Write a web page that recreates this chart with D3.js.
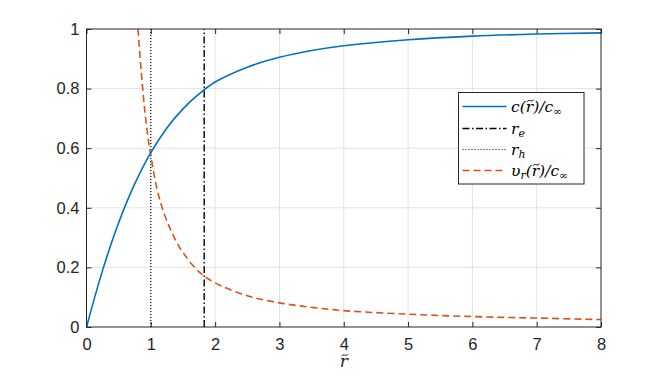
<!DOCTYPE html>
<html>
<head>
<meta charset="utf-8">
<script src="https://cdn.jsdelivr.net/npm/d3@7"></script>
<style>
  body { margin: 0; background: #fff; }
  svg { display: block; }
</style>
</head>
<body>
<div id="chart"></div>
<script>
// values
const concR   = [0, 0.25, 0.5, 0.75, 1, 1.25, 1.5, 1.75, 2, 2.5, 3, 3.5, 4, 5, 6, 7, 8];
const concVal = [0, 0.19, 0.35, 0.48, 0.585, 0.668, 0.732, 0.782, 0.822, 0.872, 0.905, 0.928, 0.944, 0.964, 0.976, 0.983, 0.987];

const velR   = [0.8, 0.85, 0.9, 0.95, 1, 1.1, 1.2, 1.3, 1.4, 1.5, 1.75, 2, 2.5, 3, 3.5, 4, 5, 6, 7, 8];
const velVal = [1.0, 0.86, 0.74, 0.645, 0.575, 0.46, 0.385, 0.33, 0.285, 0.25, 0.185, 0.148, 0.105, 0.081, 0.066, 0.055, 0.043, 0.035, 0.03, 0.025];

const rH = 1;      // dotted
const rE = 1.83;   // dash-dot

const xTicks = [0, 1, 2, 3, 4, 5, 6, 7, 8];
const yTicks = [0, 0.2, 0.4, 0.6, 0.8, 1];

const width = 664, height = 378;
const marginLeft = 86.5, marginTop = 29, plotW = 514.5, plotH = 298;
const axisColor = "#262626";
const blue = "#0072BD", orange = "#D95319";
const sansFont = "Liberation Sans";
const serifFont = "DejaVu Serif";

const x = d3.scaleLinear([0, 8], [marginLeft, marginLeft + plotW]);
const y = d3.scaleLinear([0, 1], [marginTop + plotH, marginTop]);

const svg = d3.select("#chart").append("svg")
    .attr("width", width)
    .attr("height", height)
    .attr("viewBox", [0, 0, width, height]);

svg.append("defs").append("clipPath").attr("id", "clip")
  .append("rect")
    .attr("x", x(0)).attr("y", y(1))
    .attr("width", plotW).attr("height", plotH);

// grid
const grid = svg.append("g").attr("stroke", "#e3e3e3").attr("stroke-width", 1);
grid.selectAll(".gx").data(xTicks.slice(1, -1)).join("line")
    .attr("x1", d => x(d)).attr("x2", d => x(d))
    .attr("y1", y(0)).attr("y2", y(1));
grid.selectAll(".gy").data(yTicks.slice(1, -1)).join("line")
    .attr("y1", d => y(d)).attr("y2", d => y(d))
    .attr("x1", x(0)).attr("x2", x(8));

// axes
const fmt = d3.format("~g");
const styleAxis = g => {
  g.attr("font-family", sansFont).attr("font-size", 16.5);
  g.select(".domain").remove();
  g.selectAll(".tick line").attr("stroke", axisColor);
  g.selectAll(".tick text").attr("fill", axisColor);
};

svg.append("g")
    .attr("transform", `translate(0,${y(0)})`)
    .call(d3.axisBottom(x).tickValues(xTicks).tickFormat(fmt).tickSize(-5).tickPadding(10))
    .call(styleAxis)
    .call(g => g.selectAll(".tick text").attr("dy", "0.78em"));

svg.append("g")
    .attr("transform", `translate(0,${y(1)})`)
    .call(d3.axisTop(x).tickValues(xTicks).tickFormat("").tickSize(-5))
    .call(styleAxis);

svg.append("g")
    .attr("transform", `translate(${x(0)},0)`)
    .call(d3.axisLeft(y).tickValues(yTicks).tickFormat(fmt).tickSize(-5).tickPadding(7))
    .call(styleAxis);

svg.append("g")
    .attr("transform", `translate(${x(8)},0)`)
    .call(d3.axisRight(y).tickValues(yTicks).tickFormat("").tickSize(-5))
    .call(styleAxis);

// lines
const plot = svg.append("g").attr("clip-path", "url(#clip)");

const line = d3.line()
    .curve(d3.curveCatmullRom.alpha(0.5))
    .x(d => x(d[0]))
    .y(d => y(d[1]));

const concData = concR.map((r, i) => [r, concVal[i]]);
const velData = velR.map((r, i) => [r, velVal[i]]);

plot.append("line")
    .attr("x1", x(rH)).attr("x2", x(rH)).attr("y1", y(0)).attr("y2", y(1))
    .attr("stroke", "#000").attr("stroke-width", 1.2).attr("stroke-dasharray", "1,2");

plot.append("line")
    .attr("x1", x(rE)).attr("x2", x(rE)).attr("y1", y(0)).attr("y2", y(1))
    .attr("stroke", "#000").attr("stroke-width", 1.4).attr("stroke-dasharray", "7,2.5,1.5,2.5");

plot.append("path")
    .attr("fill", "none")
    .attr("stroke", orange)
    .attr("stroke-width", 1.6)
    .attr("stroke-dasharray", "7,4")
    .attr("d", line(velData));

plot.append("path")
    .attr("fill", "none")
    .attr("stroke", blue)
    .attr("stroke-width", 1.6)
    .attr("d", line(concData));

// box
svg.append("rect")
    .attr("x", x(0)).attr("y", y(1))
    .attr("width", plotW).attr("height", plotH)
    .attr("fill", "none").attr("stroke", axisColor).attr("stroke-width", 1);

// math text: parts are [text, kind]; kind "sub" = subscript, "rt" = r with a tilde over it
function mathText(sel, px, py, size, parts, color) {
  const g = sel.append("g");
  const t = g.append("text")
      .attr("x", px).attr("y", py)
      .attr("font-family", serifFont).attr("font-style", "italic")
      .attr("font-size", size)
      .attr("fill", color || "#000");
  const tildeAt = [];
  let idx = 0;
  parts.forEach(([s, kind], j) => {
    const ts = t.append("tspan").text(s);
    const prev = j > 0 ? parts[j - 1][1] : null;
    if (kind === "sub") ts.attr("font-size", size * 0.7).attr("dy", size * 0.25);
    else if (prev === "sub") ts.attr("dy", -size * 0.25);
    if (kind === "rt") tildeAt.push(idx);
    idx += s.length;
  });
  // tilde accent drawn as a small wave
  tildeAt.forEach(k => {
    const b = t.node().getExtentOfChar(k);
    const cx = b.x + b.width / 2 + size * 0.06, cy = py - size * 0.7;
    const hw = size * 0.2, hh = size * 0.07;
    g.append("path")
        .attr("fill", "none")
        .attr("stroke", color || "#000")
        .attr("stroke-width", 1)
        .attr("d", `M${cx - hw},${cy + hh} C${cx - hw * 0.5},${cy - hh * 2} ${cx + hw * 0.5},${cy + hh * 2} ${cx + hw},${cy - hh}`);
  });
  return g;
}

// x label
mathText(svg, x(4) - 4, 367, 17, [["r", "rt"]], axisColor);

// legend
const legend = svg.append("g");
legend.append("rect")
    .attr("x", 458.5).attr("y", 92.5).attr("width", 125.5).attr("height", 91.5)
    .attr("fill", "#fff").attr("stroke", axisColor).attr("stroke-width", 1);

const items = [
  { stroke: blue, dash: null, w: 1.6, parts: [["c(", null], ["r", "rt"], [")/c", null], ["\u221e", "sub"]] },
  { stroke: "#000", dash: "7,2.5,1.5,2.5", w: 1.4, parts: [["r", null], ["e", "sub"]] },
  { stroke: "#000", dash: "1,2", w: 1.2, parts: [["r", null], ["h", "sub"]] },
  { stroke: orange, dash: "7,4", w: 1.6, parts: [["\u03c5", null], ["r", "sub"], ["(", null], ["r", "rt"], [")/c", null], ["\u221e", "sub"]] }
];
const rowY = [106.5, 128.5, 149.5, 170.5];

items.forEach((it, i) => {
  legend.append("line")
      .attr("x1", 462.5).attr("x2", 506.5)
      .attr("y1", rowY[i]).attr("y2", rowY[i])
      .attr("stroke", it.stroke).attr("stroke-width", it.w)
      .attr("stroke-dasharray", it.dash);
  mathText(legend, 511, rowY[i] + 5, 15.5, it.parts);
});
</script>
</body>
</html>
